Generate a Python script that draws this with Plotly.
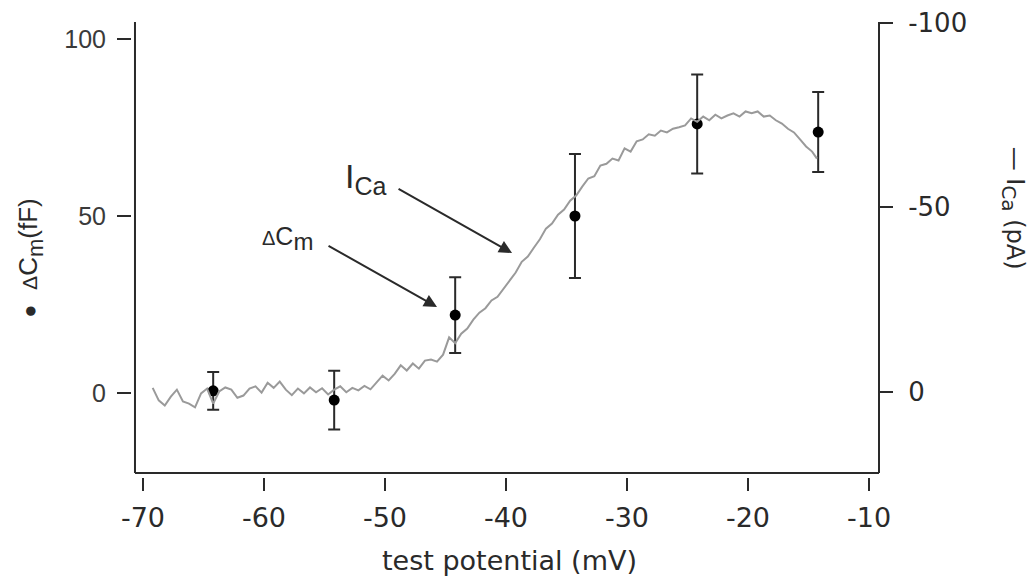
import plotly.graph_objects as go

# ---- data ----
cm_x = [-64.2, -54.2, -44.2, -34.3, -24.2, -14.2]
cm_y = [0.6, -2.0, 22.0, 50.0, 76.0, 73.7]
cm_err = [5.3, 8.3, 10.7, 17.5, 14.0, 11.3]

ica_x = [-69.2, -68.7, -68.2, -67.7, -67.2, -66.7, -66.2, -65.7, -65.2, -64.7,
         -64.2, -63.7, -63.2, -62.7, -62.2, -61.7, -61.2, -60.7, -60.2, -59.7,
         -59.2, -58.7, -58.2, -57.7, -57.2, -56.7, -56.2, -55.7, -55.2, -54.7,
         -54.2, -53.7, -53.2, -52.7, -52.2, -51.7, -51.2, -50.7, -50.2, -49.7,
         -49.2, -48.7, -48.2, -47.7, -47.2, -46.7, -46.2, -45.7, -45.2, -44.7,
         -44.2, -43.7, -43.2, -42.7, -42.2, -41.7, -41.2, -40.7, -40.2, -39.7,
         -39.2, -38.7, -38.2, -37.7, -37.2, -36.7, -36.2, -35.7, -35.2, -34.7,
         -34.2, -33.7, -33.2, -32.7, -32.2, -31.7, -31.2, -30.7, -30.2, -29.7,
         -29.2, -28.7, -28.2, -27.7, -27.2, -26.7, -26.2, -25.7, -25.2, -24.7,
         -24.2, -23.7, -23.2, -22.7, -22.2, -21.7, -21.2, -20.7, -20.2, -19.7,
         -19.2, -18.7, -18.2, -17.7, -17.2, -16.7, -16.2, -15.7, -15.2, -14.7,
         -14.3]
ica_y = [-1.0, 2.4, 3.8, 1.4, -0.5, 2.7, 3.3, 4.3, 0.5, -0.8,
         3.3, 0.0, -1.1, -0.5, 1.7, 1.1, -0.8, -1.4, 0.3, -2.4,
         -1.0, -2.7, -0.5, 1.0, -0.8, 0.5, -1.1, 0.2, -0.9, 0.8,
         -0.5, -1.4, 0.2, -1.0, -0.3, -1.5, -0.6, -2.4, -4.3, -3.0,
         -4.8, -7.1, -5.7, -7.6, -6.2, -8.4, -8.7, -8.1, -10.0, -14.7,
         -13.1, -15.7, -17.1, -19.5, -21.4, -22.6, -24.7, -25.7, -28.0, -30.2,
         -32.3, -35.2, -36.6, -39.0, -41.3, -44.2, -45.6, -48.0, -49.4, -51.8,
         -53.2, -55.6, -57.8, -58.4, -61.3, -61.8, -63.2, -62.7, -66.0, -65.1,
         -67.9, -68.4, -69.8, -69.4, -70.8, -70.3, -71.3, -71.7, -72.2, -74.1,
         -73.2, -74.6, -73.6, -75.1, -74.1, -74.9, -75.5, -74.6, -76.0, -75.5,
         -76.0, -74.6, -74.9, -73.6, -72.7, -71.3, -70.3, -68.4, -66.5, -65.1,
         -63.2]

x_tickvals = [-70, -60, -50, -40, -30, -20, -10]
x_ticktext = ["-70", "-60", "-50", "-40", "-30", "-20", "-10"]
y_tickvals = [0, 50, 100]
y_ticktext = ["0", "50", "100"]
y2_tickvals = [-100, -50, 0]
y2_ticktext = ["-100", "-50", "0"]

INK = "#2a2a2a"
fig = go.Figure()

fig.add_trace(go.Scatter(
    x=ica_x, y=ica_y, yaxis="y2", mode="lines",
    line=dict(color="#9a9a9a", width=2), showlegend=False, hoverinfo="skip"))

fig.add_trace(go.Scatter(
    x=cm_x, y=cm_y, mode="markers",
    marker=dict(color="black", size=11),
    error_y=dict(type="data", array=cm_err, color=INK, thickness=2, width=6),
    showlegend=False))

fig.update_layout(
    width=1032, height=576,
    margin=dict(l=132, r=153, t=22, b=99, autoexpand=False),
    paper_bgcolor="white", plot_bgcolor="white",
    xaxis=dict(range=[-70.909, -9.174], tickvals=x_tickvals, ticktext=x_ticktext,
               showgrid=False, zeroline=False, showline=False,
               ticks="outside", ticklen=13, tickwidth=1.5, tickcolor=INK,
               tickfont=dict(family="DejaVu Sans", size=27, color=INK),
               ticklabelstandoff=4),
    yaxis=dict(range=[-23.73, 104.8], tickvals=y_tickvals, ticktext=y_ticktext,
               showgrid=False, zeroline=False, showline=False,
               ticks="outside", ticklen=14, tickwidth=1.5, tickcolor=INK,
               tickfont=dict(family="Liberation Sans", size=25, color="#3a3a3a"),
               ticklabelstandoff=6),
    yaxis2=dict(range=[23.2, -100.27], overlaying="y", side="right",
                tickvals=y2_tickvals, ticktext=y2_ticktext,
                showgrid=False, zeroline=False, showline=False,
                ticks="outside", ticklen=13, tickwidth=1.5, tickcolor=INK,
                tickfont=dict(family="DejaVu Sans", size=26, color=INK),
                ticklabelstandoff=10),
)

# spines
sp = dict(type="line", xref="paper", yref="paper", line=dict(color=INK, width=2))
fig.add_shape(x0=0.004, x1=0.004, y0=0.0088, y1=1.0, **sp)
fig.add_shape(x0=0.004, x1=1.0, y0=0.0088, y1=0.0088, **sp)
fig.add_shape(x0=1.0, x1=1.0, y0=0.0088, y1=1.0, **sp)

# axis titles
fig.add_annotation(text="test potential (mV)", xref="paper", yref="paper",
                   x=0.5054, y=-0.184, showarrow=False, xanchor="center", yanchor="middle",
                   font=dict(family="DejaVu Sans", size=27, color=INK))
fig.add_annotation(
    text=("<span style='font-size:22px'>●</span>  "
          "<span style='font-size:21px'>Δ</span>C<sub><span style='font-size:22px'>m</span></sub>(fF)"),
    xref="paper", yref="paper",
    x=-0.1365, y=0.480, showarrow=False, textangle=-90,
    xanchor="center", yanchor="middle",
    font=dict(family="Liberation Sans", size=26, color=INK))
fig.add_annotation(
    text="— I<sub><span style='font-size:20px'>Ca</span></sub> (pA)",
    xref="paper", yref="paper",
    x=1.1794, y=0.592, showarrow=False, textangle=90,
    xanchor="center", yanchor="middle",
    font=dict(family="DejaVu Sans", size=24, color=INK))

# in-plot labels
fig.add_annotation(text="I<sub><span style='font-size:25px'>Ca</span></sub>",
                   xref="paper", yref="paper",
                   x=0.3133, y=0.657, showarrow=False, xanchor="center", yanchor="middle",
                   font=dict(family="Liberation Sans", size=34, color=INK))
fig.add_annotation(
    text="<span style='font-size:20px'>Δ</span>C<sub><span style='font-size:24px'>m</span></sub>",
    xref="paper", yref="paper",
    x=0.2075, y=0.525, showarrow=False, xanchor="center", yanchor="middle",
    font=dict(family="Liberation Sans", size=25, color=INK))
# arrows
fig.add_annotation(text="", x=-39.5, y=39.55, xref="x", yref="y",
                   ax=-115, ay=-65, showarrow=True, arrowhead=2, arrowsize=1.3,
                   arrowwidth=2, arrowcolor=INK)
fig.add_annotation(text="", x=-45.7, y=24.29, xref="x", yref="y",
                   ax=-110, ay=-62, showarrow=True, arrowhead=2, arrowsize=1.3,
                   arrowwidth=2, arrowcolor=INK)

fig.write_html("out.html")
